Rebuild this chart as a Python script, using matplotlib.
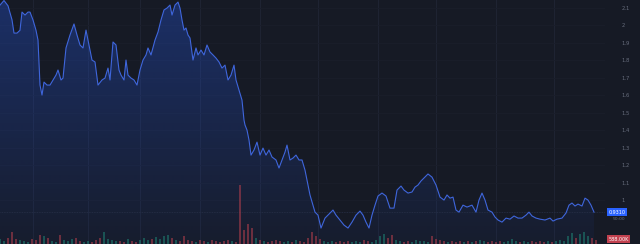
import numpy as np
import matplotlib
matplotlib.use("Agg")
import matplotlib.pyplot as plt
from matplotlib.patches import Polygon

# ---------------- data ----------------
day = [0, 4, 8, 12, 14, 17, 20, 22, 25, 28, 30, 33, 36, 38, 40, 42, 44, 47, 50, 53,
       56, 58, 61, 63, 66, 70, 74, 77, 80, 83, 86, 89, 92, 95, 98, 102, 105, 108, 110, 113,
       116, 119, 121, 124, 126, 128, 131, 134, 137, 140, 143, 146, 148, 151, 155, 158, 161, 164, 167, 170,
       172, 175, 178, 180, 182, 184, 186, 188, 190, 193, 196, 198, 201, 204, 207, 210, 213, 216, 219, 222,
       225, 228, 231, 234, 236, 239, 242, 244, 245, 247, 249, 251, 254, 257, 260, 263, 266, 269, 272, 276,
       279, 282, 285, 287, 290, 293, 296, 299, 302, 305, 308, 310, 313, 315, 318, 321, 325, 328, 333, 336,
       340, 344, 348, 352, 356, 360, 363, 366, 369, 372, 375, 378, 382, 386, 390, 394, 397, 401, 404, 408,
       412, 415, 418, 421, 424, 428, 432, 436, 440, 444, 447, 450, 453, 456, 459, 463, 467, 472, 476, 479,
       482, 485, 488, 492, 495, 498, 502, 506, 510, 514, 518, 522, 526, 529, 532, 536, 540, 545, 550, 553,
       557, 562, 566, 569, 572, 575, 578, 582, 585, 588, 591, 594]

price = [2.114, 2.140, 2.110, 2.030, 1.954, 1.954, 1.970, 2.074, 2.057, 2.074, 2.074, 2.029, 1.970, 1.914, 1.657, 1.600, 1.674, 1.657, 1.657, 1.686,
         1.714, 1.743, 1.686, 1.697, 1.869, 1.943, 2.006, 1.943, 1.886, 1.869, 1.971, 1.886, 1.800, 1.789, 1.657, 1.686, 1.697, 1.754, 1.686, 1.903,
         1.886, 1.743, 1.714, 1.686, 1.800, 1.714, 1.697, 1.686, 1.657, 1.743, 1.800, 1.829, 1.869, 1.829, 1.914, 1.960, 2.029, 2.086, 2.097, 2.114,
         2.057, 2.114, 2.131, 2.097, 2.029, 1.971, 1.983, 1.943, 1.926, 1.800, 1.869, 1.829, 1.857, 1.829, 1.886, 1.846, 1.829, 1.811, 1.789, 1.754,
         1.771, 1.686, 1.714, 1.771, 1.686, 1.629, 1.571, 1.457, 1.429, 1.400, 1.343, 1.257, 1.286, 1.331, 1.257, 1.297, 1.257, 1.286, 1.246, 1.229,
         1.183, 1.229, 1.274, 1.314, 1.229, 1.240, 1.257, 1.229, 1.229, 1.171, 1.086, 1.029, 0.971, 0.931, 0.914, 0.840, 0.897, 0.914, 0.943, 0.914,
         0.886, 0.857, 0.840, 0.874, 0.914, 0.937, 0.914, 0.874, 0.840, 0.914, 0.971, 1.023, 1.040, 1.023, 0.954, 0.954, 1.057, 1.080, 1.057, 1.040,
         1.046, 1.074, 1.086, 1.109, 1.126, 1.149, 1.131, 1.086, 1.017, 1.000, 1.029, 1.011, 1.017, 0.943, 0.931, 0.971, 0.960, 0.971, 0.931, 1.000,
         1.040, 1.000, 0.943, 0.931, 0.903, 0.886, 0.874, 0.897, 0.891, 0.909, 0.897, 0.897, 0.914, 0.931, 0.909, 0.897, 0.891, 0.886, 0.897, 0.880,
         0.891, 0.897, 0.926, 0.971, 0.983, 0.966, 0.977, 0.966, 1.011, 1.000, 0.971, 0.931]

vol_day = list(range(0, 600, 4))
volume_k = [50, 30, 60, 120, 50, 40, 30, 20, 50, 40, 90, 80, 60, 30, 20, 90, 40, 30, 50, 60,
            30, 20, 30, 20, 40, 60, 120, 50, 40, 30, 30, 20, 50, 30, 20, 40, 60, 40, 50, 70,
            50, 80, 90, 60, 40, 30, 80, 40, 30, 20, 40, 30, 20, 40, 30, 20, 30, 40, 30, 20,
            590, 140, 200, 160, 60, 40, 30, 20, 30, 40, 30, 20, 30, 20, 40, 30, 20, 60, 120, 80,
            50, 30, 20, 30, 20, 30, 20, 30, 20, 30, 20, 40, 30, 20, 40, 80, 100, 60, 90, 40,
            30, 20, 30, 20, 40, 30, 30, 20, 80, 50, 40, 30, 20, 30, 20, 30, 20, 30, 20, 30,
            40, 30, 20, 30, 20, 30, 20, 30, 50, 30, 20, 30, 20, 30, 20, 30, 20, 30, 20, 30,
            40, 30, 80, 110, 60, 100, 120, 80, 60, 40]

price_ticks = [1.0, 1.1, 1.2, 1.3, 1.4, 1.5, 1.6, 1.7, 1.8, 1.9, 2.0, 2.1]
grid_days = [33, 88, 140, 200, 260, 318, 378, 436, 496, 554]

# ---------------- style ----------------
BG = "#161a25"
GRID = "#1f2433"
LINE = "#3f66dc"
TXT = "#666c7c"

fig = plt.figure(figsize=(6.4, 2.44), dpi=100)
fig.patch.set_facecolor(BG)
ax = fig.add_axes([0, 0, 605 / 640, 1])
ax.set_facecolor(BG)
ymin, ymax = 0.749, 2.143
ax.set_xlim(0, 605)
ax.set_ylim(ymin, ymax)

for d in grid_days:
    ax.axvline(d, color=GRID, lw=0.7, zorder=0)
for t in price_ticks:
    ax.axhline(t, color="#1a1e2a", lw=0.6, zorder=0)

# volume pane
ax2 = ax.twinx()
ax2.set_ylim(0, 2440)
prev = np.interp(np.array(vol_day) - 4, day, price)
cur = np.interp(vol_day, day, price)
colors = ["#1f8a7a" if c >= p else "#c2414f" for c, p in zip(cur, prev)]
ax2.bar(vol_day, volume_k, width=2.0, color=colors, alpha=0.5, zorder=1, linewidth=0)
ax2.set_yticks([])
for s in ax2.spines.values():
    s.set_visible(False)

# gradient area
verts = [(day[0], ymin)] + list(zip(day, price)) + [(day[-1], ymin)]
poly = Polygon(verts, facecolor="none", edgecolor="none")
ax.add_patch(poly)
rgb = matplotlib.colors.to_rgb("#2962ff")
grad = np.zeros((256, 1, 4))
grad[..., 0], grad[..., 1], grad[..., 2] = rgb
grad[..., 3] = np.linspace(0.04, 0.30, 256)[:, None]
im = ax.imshow(grad, extent=[0, 605, ymin, max(price)], origin="lower",
               aspect="auto", zorder=1, interpolation="bilinear")
im.set_clip_path(poly)
ax.set_xlim(0, 605)
ax.set_ylim(ymin, ymax)

ax.plot(day, price, color=LINE, lw=0.8, zorder=3)
ax.axhline(price[-1], color="#283048", lw=0.6, ls=(0, (1, 1)), zorder=2)

# right price scale
ax.set_xticks([])
ax.yaxis.tick_right()
ax.set_yticks(price_ticks)
ax.set_yticklabels([f"{t:g}" for t in price_ticks])
ax.tick_params(axis="y", length=0, pad=12, labelsize=3.8, labelcolor=TXT)
for s in ax.spines.values():
    s.set_visible(False)

ytr = ax.get_yaxis_transform()
ax.text(1.006, price[-1], f"{price[-1]:.4f}", transform=ytr, fontsize=3.5,
        color="white", va="center", ha="left", zorder=5,
        bbox=dict(boxstyle="square,pad=0.25", fc="#2962ff", ec="none"))
ax.text(1.012, price[-1] - 0.042, "50:00", transform=ytr, fontsize=3.2,
        color=TXT, va="center", ha="left")
ax.text(1.006, ymin + 0.028, f"{volume_k[-1] * 14.7:.2f}K", transform=ytr, fontsize=3.5,
        color="white", va="center", ha="left", zorder=5,
        bbox=dict(boxstyle="square,pad=0.25", fc="#c2414f", ec="none"))

fig.savefig("out.png", dpi=100, facecolor=BG)
